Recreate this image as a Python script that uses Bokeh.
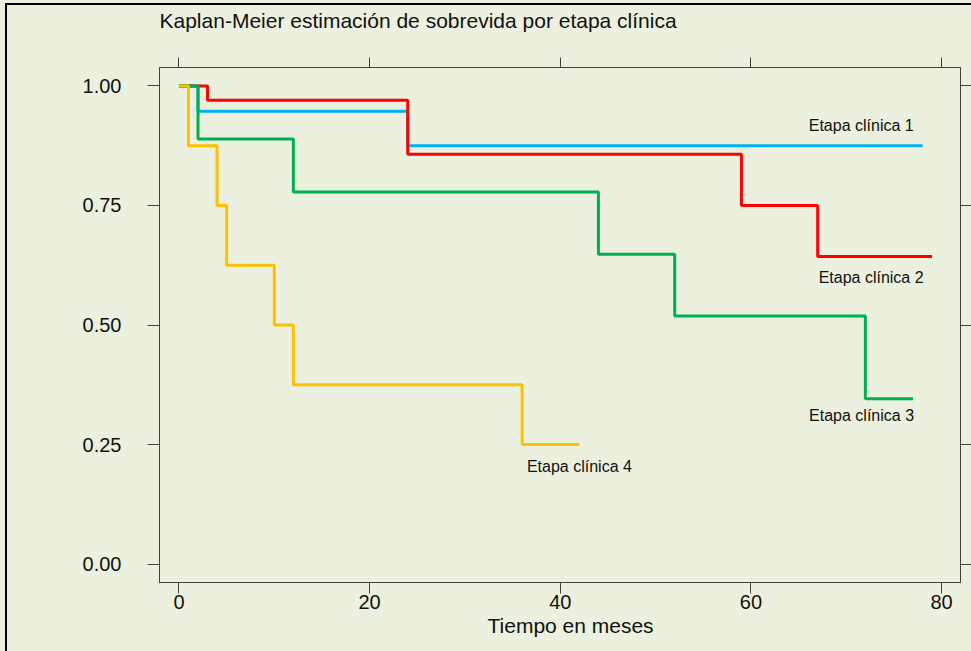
from bokeh.plotting import figure
from bokeh.models import Range1d, FixedTicker, LinearAxis, NumeralTickFormatter, Title
from bokeh.core.properties import value
from bokeh.embed import file_html
from bokeh.resources import INLINE

# ---- data ----
x_ticks = [0, 20, 40, 60, 80]
y_ticks = [0.0, 0.25, 0.5, 0.75, 1.0]

etapa1_t = [0, 2, 24, 78]
etapa1_s = [1.0, 0.947, 0.875, 0.875]

etapa2_t = [0, 3, 24, 59, 67, 79]
etapa2_s = [1.0, 0.970, 0.857, 0.750, 0.643, 0.643]

etapa3_t = [0, 2, 12, 44, 52, 72, 77]
etapa3_s = [1.0, 0.889, 0.778, 0.648, 0.519, 0.346, 0.346]

etapa4_t = [0, 1, 4, 5, 10, 12, 36, 42]
etapa4_s = [1.0, 0.875, 0.750, 0.625, 0.500, 0.375, 0.250, 0.250]

series_names = ["Etapa clínica 1", "Etapa clínica 2", "Etapa clínica 3", "Etapa clínica 4"]
series_colors = ["#00B0F0", "#FF0000", "#00B050", "#FFC000"]

# ---- styling ----
BG = "#EBF1DE"
AX = "#404040"
FONT = "Liberation Sans"

p = figure(width=971, height=651,
           x_range=Range1d(-2.04, 81.98), y_range=Range1d(-0.0385, 1.0385),
           output_backend="svg", toolbar_location=None,
           min_border_left=159, min_border_right=11, min_border_top=67, min_border_bottom=69,
           background_fill_color=BG, border_fill_color=None,
           outline_line_color=AX, outline_line_width=1)
# page background and the outer black frame line (left and top edges)
p.styles = {"background-color": BG,
            "box-shadow": f"inset 5px 3px 0 0 {BG}, inset 7px 5px 0 0 #000000"}
p.xgrid.visible = False
p.ygrid.visible = False

p.title.text = "Kaplan-Meier estimación de sobrevida por etapa clínica"
p.title.align = "left"
p.title.text_font = FONT
p.title.text_font_size = "21px"
p.title.text_font_style = "normal"
p.title.text_color = "#111111"
p.title.standoff = 0

xa = p.xaxis[0]
xa.ticker = FixedTicker(ticks=x_ticks)
xa.major_tick_out = 11
xa.major_tick_in = 0
xa.minor_tick_out = 0
xa.minor_tick_in = 0
xa.major_label_standoff = 1
xa.major_label_text_font = FONT
xa.major_label_text_font_size = "20px"
xa.major_label_text_color = "#111111"
xa.axis_line_color = AX
xa.major_tick_line_color = AX

ya = p.yaxis[0]
ya.ticker = FixedTicker(ticks=y_ticks)
ya.formatter = NumeralTickFormatter(format="0.00")
ya.major_tick_out = 12
ya.major_tick_in = 0
ya.minor_tick_out = 0
ya.minor_tick_in = 0
ya.major_label_standoff = 26
ya.major_label_text_font = FONT
ya.major_label_text_font_size = "20px"
ya.major_label_text_color = "#111111"
ya.axis_line_color = AX
ya.major_tick_line_color = AX

top = LinearAxis(ticker=FixedTicker(ticks=x_ticks), major_tick_out=10, major_tick_in=0,
                 minor_tick_out=0, minor_tick_in=0, major_label_standoff=0,
                 major_label_text_font_size="0px", major_label_text_color=None,
                 axis_line_color=AX, major_tick_line_color=AX)
p.add_layout(top, "above")
# spacer between the top axis and the title (background-coloured, lifts the title)
spacer = Title(text="|", text_font=FONT, text_font_size="10px", text_color=BG,
               text_alpha=0.01, standoff=13)
p.add_layout(spacer, "above")

right = LinearAxis(ticker=FixedTicker(ticks=y_ticks), major_tick_out=11, major_tick_in=0,
                   minor_tick_out=0, minor_tick_in=0, major_label_standoff=0,
                   major_label_text_font_size="0px", major_label_text_color=None,
                   axis_line_color=AX, major_tick_line_color=AX)
p.add_layout(right, "right")

xlabel = Title(text="Tiempo en meses", align="left", offset=328,
               text_font=FONT, text_font_size="21px", text_font_style="normal",
               text_color="#111111", standoff=0)
p.add_layout(xlabel, "below")

# ---- curves ----
for t, s, c in [(etapa1_t, etapa1_s, series_colors[0]),
                (etapa2_t, etapa2_s, series_colors[1]),
                (etapa3_t, etapa3_s, series_colors[2]),
                (etapa4_t, etapa4_s, series_colors[3])]:
    p.step(t, s, mode="after", line_color=c, line_width=3)

# curve labels
lab_x = [66.06, 67.1, 66.1, 36.5]
lab_y = [0.9163, 0.5986, 0.3102, 0.2036]
p.text(x=lab_x, y=lab_y, text=series_names, text_font=value(FONT), text_font_size="16px",
       text_baseline="middle", text_align="left", text_color="#111111")

open("out.html", "w").write(file_html(p, INLINE))
